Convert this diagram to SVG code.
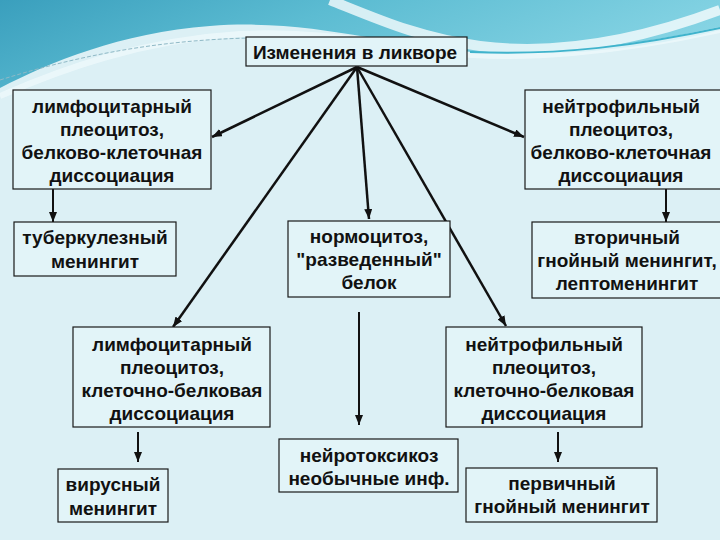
<svg xmlns="http://www.w3.org/2000/svg" width="720" height="540" viewBox="0 0 720 540">
  <defs>
    <linearGradient id="topg" x1="0" y1="0" x2="1" y2="0.3">
      <stop offset="0" stop-color="#3a9fbd"/>
      <stop offset="0.45" stop-color="#5cbcd2"/>
      <stop offset="1" stop-color="#86d4e4"/>
    </linearGradient>
    <marker id="ah" markerUnits="userSpaceOnUse" markerWidth="10" markerHeight="8" refX="10" refY="4" orient="auto">
      <path d="M0,0 L10,4 L0,8 z" fill="#111"/>
    </marker>
    <style>
      .box { fill: #e2f4f8; stroke: #1a1a1a; stroke-width: 1.2; }
      .t { font-family: "Liberation Sans", Arial, sans-serif; font-weight: bold; font-size: 19px; fill: #111; text-anchor: middle; }
      .c { stroke: #111; stroke-width: 2.5; fill: none; marker-end: url(#ah); }
      .v { stroke: #111; stroke-width: 2; fill: none; marker-end: url(#ah); }
    </style>
  </defs>

  <!-- background -->
  <rect x="0" y="0" width="720" height="540" fill="#dcf0f5"/>
  <path d="M0,0 H720 V30 C650,48 560,58 470,52 C390,46 310,18 210,26 C120,33 50,62 0,88 Z" fill="url(#topg)"/>
  <path d="M0,96 C60,70 140,40 240,34 C320,30 380,44 440,52 C520,62 620,52 720,30" fill="none" stroke="#eef9fb" stroke-width="6" opacity="0.8"/>
  <path d="M330,0 C380,20 420,38 480,46 C560,56 640,40 720,10" fill="none" stroke="#ffffff" stroke-width="10" opacity="0.75"/>
  <path d="M0,80 C80,55 160,40 250,38" fill="none" stroke="#8fb9c6" stroke-width="1" stroke-dasharray="4,2"/>
  <path d="M470,52 C560,56 640,45 720,28" fill="none" stroke="#3fb3cc" stroke-width="2"/>

  <!-- connectors -->
  <g id="connectors">
    <line class="c" x1="357" y1="67" x2="212" y2="137"/>
    <line class="c" x1="357" y1="67" x2="524" y2="137"/>
    <line class="c" x1="357" y1="67" x2="369" y2="219"/>
    <line class="c" x1="357" y1="67" x2="173" y2="327"/>
    <line class="c" x1="357" y1="67" x2="506" y2="326"/>
    <line class="v" x1="53" y1="189" x2="53" y2="222"/>
    <line class="v" x1="666" y1="189" x2="666" y2="222"/>
    <line class="v" x1="359" y1="312" x2="359" y2="425"/>
    <line class="v" x1="138" y1="432" x2="138" y2="462"/>
    <line class="v" x1="558" y1="432" x2="558" y2="462"/>
  </g>

  <g id="n-top">
    <rect class="box" x="246" y="37" width="221" height="29"/>
    <text class="t" x="355" y="59">Изменения в ликворе</text>
  </g>
  <g id="n-lymph1">
    <rect class="box" x="13" y="90" width="198" height="99"/>
    <text class="t" x="112" y="113">лимфоцитарный</text>
    <text class="t" x="112" y="136">плеоцитоз,</text>
    <text class="t" x="112" y="159">белково-клеточная</text>
    <text class="t" x="112" y="182">диссоциация</text>
  </g>
  <g id="n-neutro1">
    <rect class="box" x="525" y="90" width="196" height="99"/>
    <text class="t" x="621" y="113">нейтрофильный</text>
    <text class="t" x="621" y="136">плеоцитоз,</text>
    <text class="t" x="621" y="159">белково-клеточная</text>
    <text class="t" x="621" y="182">диссоциация</text>
  </g>
  <g id="n-tuberc">
    <rect class="box" x="14" y="222" width="162" height="54"/>
    <text class="t" x="95" y="244">туберкулезный</text>
    <text class="t" x="95" y="268">менингит</text>
  </g>
  <g id="n-normo">
    <rect class="box" x="288" y="221" width="162" height="76"/>
    <text class="t" x="369" y="243">нормоцитоз,</text>
    <text class="t" x="369" y="266">"разведенный"</text>
    <text class="t" x="369" y="289">белок</text>
  </g>
  <g id="n-second">
    <rect class="box" x="532" y="222" width="189" height="76"/>
    <text class="t" x="627" y="244">вторичный</text>
    <text class="t" x="627" y="267">гнойный менингит,</text>
    <text class="t" x="627" y="290">лептоменингит</text>
  </g>
  <g id="n-lymph2">
    <rect class="box" x="73" y="327" width="197" height="100"/>
    <text class="t" x="172" y="351">лимфоцитарный</text>
    <text class="t" x="172" y="374">плеоцитоз,</text>
    <text class="t" x="172" y="397">клеточно-белковая</text>
    <text class="t" x="172" y="420">диссоциация</text>
  </g>
  <g id="n-neutro2">
    <rect class="box" x="446" y="327" width="196" height="100"/>
    <text class="t" x="544" y="351">нейтрофильный</text>
    <text class="t" x="544" y="374">плеоцитоз,</text>
    <text class="t" x="544" y="397">клеточно-белковая</text>
    <text class="t" x="544" y="420">диссоциация</text>
  </g>
  <g id="n-viral">
    <rect class="box" x="58" y="469" width="110" height="53"/>
    <text class="t" x="113" y="491">вирусный</text>
    <text class="t" x="113" y="515">менингит</text>
  </g>
  <g id="n-neurotox">
    <rect class="box" x="279" y="439" width="179" height="53"/>
    <text class="t" x="369" y="462">нейротоксикоз</text>
    <text class="t" x="369" y="485">необычные инф.</text>
  </g>
  <g id="n-primary">
    <rect class="box" x="466" y="468" width="191" height="54"/>
    <text class="t" x="562" y="490">первичный</text>
    <text class="t" x="562" y="513">гнойный менингит</text>
  </g>
</svg>
